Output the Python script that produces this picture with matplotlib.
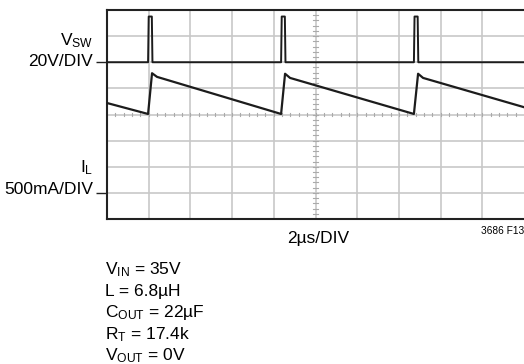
import matplotlib
matplotlib.use("Agg")
import matplotlib.pyplot as plt

# Scope capture: switch node voltage and inductor current
# Time in microseconds, values in volts / amps
vsw_time = [0.0, 1.97, 2.00, 2.15, 2.18, 8.35, 8.38, 8.53, 8.56,
            14.72, 14.75, 14.90, 14.93, 20.0]
vsw_volts = [0, 0, 35, 35, 0, 0, 35, 35, 0, 0, 35, 35, 0, 0]

il_time = [0.0, 1.97, 2.16, 2.40, 8.35, 8.54, 8.78, 14.72, 14.92, 15.16, 20.0]
il_amps = [1.72, 1.51, 2.29, 2.22, 1.51, 2.28, 2.20, 1.51, 2.28, 2.20, 1.64]

# Scope settings: per-division scales and the trace ground levels (in divisions)
time_per_div = 2.0     # us
vsw_per_div = 20.0     # V
il_per_div = 0.5       # A
vsw_zero_div = 6
il_zero_div = 1

conditions = [r"V$_{\mathrm{IN}}$ = 35V", "L = 6.8µH", r"C$_{\mathrm{OUT}}$ = 22µF",
              r"R$_{\mathrm{T}}$ = 17.4k", r"V$_{\mathrm{OUT}}$ = 0V"]

plt.rcParams["font.family"] = ["Liberation Sans", "DejaVu Sans"]
plt.rcParams["mathtext.fontset"] = "custom"
plt.rcParams["mathtext.rm"] = "Liberation Sans"
plt.rcParams["mathtext.it"] = "Liberation Sans:italic"
plt.rcParams["mathtext.bf"] = "Liberation Sans:bold"

fig = plt.figure(figsize=(5.24, 3.64), dpi=100)
ax = fig.add_axes([107 / 524, 145 / 364, 417 / 524, 209 / 364])
ax.set_xlim(0, 10)
ax.set_ylim(0, 8)

# graticule
grid_color = "#c8c8c8"
for i in range(1, 10):
    ax.axvline(i, color=grid_color, lw=1.2, zorder=1)
for j in range(1, 8):
    ax.axhline(j, color=grid_color, lw=1.2, zorder=1)

# minor marks on the centre lines
for k in range(1, 50):
    ax.plot([k * 0.2, k * 0.2], [3.93, 4.07], color="#aaaaaa", lw=0.8, zorder=1)
for k in range(1, 40):
    ax.plot([4.94, 5.06], [k * 0.2, k * 0.2], color="#aaaaaa", lw=0.8, zorder=1)

# traces
vsw_x = [t / time_per_div for t in vsw_time]
vsw_y = [vsw_zero_div + v / vsw_per_div for v in vsw_volts]
il_x = [t / time_per_div for t in il_time]
il_y = [il_zero_div + a / il_per_div for a in il_amps]
ax.plot(vsw_x, vsw_y, color="#1c1c1c", lw=1.4, zorder=3, clip_on=False)
ax.plot(il_x, il_y, color="#1c1c1c", lw=1.6, zorder=3)

# frame
for side in ["top", "left", "bottom"]:
    ax.spines[side].set_linewidth(1.5)
    ax.spines[side].set_color("#222222")
ax.spines["right"].set_visible(False)
ax.set_xticks([])
ax.set_yticks([il_zero_div, vsw_zero_div])
ax.set_yticklabels([])
ax.tick_params(axis="y", length=8, width=1.0, color="#222222")

fs = 12.5
ax.text(-0.34, 6.66, r"V$_{\mathrm{SW}}$", ha="right", va="baseline", fontsize=fs)
ax.text(-0.34, 5.86, "20V/DIV", ha="right", va="baseline", fontsize=fs)
ax.text(-0.34, 1.80, r"I$_{\mathrm{L}}$", ha="right", va="baseline", fontsize=fs)
ax.text(-0.34, 0.96, "500mA/DIV", ha="right", va="baseline", fontsize=fs)
ax.text(5.06, -0.92, "2µs/DIV", ha="center", va="baseline", fontsize=fs)
ax.text(10.0, -0.57, "3686 F13", ha="right", va="baseline", fontsize=7.3)

for n, line in enumerate(conditions):
    ax.text(-0.05, -2.12 - 0.825 * n, line, ha="left", va="baseline", fontsize=fs)

fig.savefig("out.png", dpi=100)
